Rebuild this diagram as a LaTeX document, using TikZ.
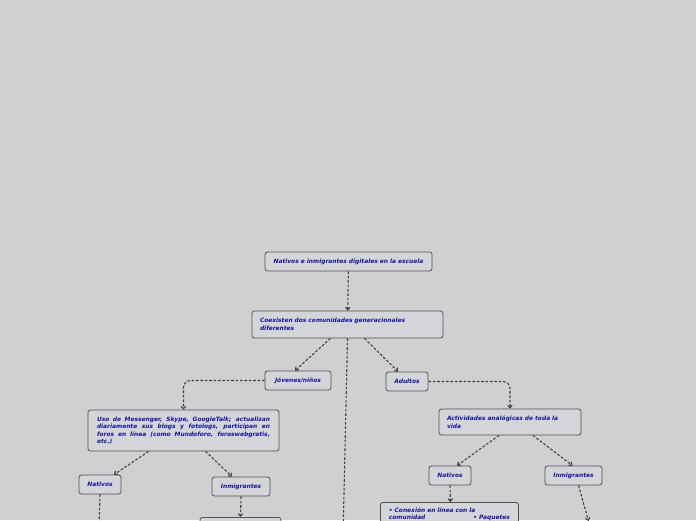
\documentclass[tikz,border=0pt]{standalone}
\usepackage{fontspec}
\setmainfont{DejaVu Sans}
\usetikzlibrary{arrows.meta,positioning}
\definecolor{canvas}{HTML}{CFD0D2}
\definecolor{boxfill}{HTML}{D4D5D8}
\definecolor{boxline}{HTML}{505050}
\definecolor{ink}{HTML}{14149E}
\definecolor{linkc}{HTML}{404040}

\begin{document}
\begin{tikzpicture}[x=1pt, y=-1pt,
  every node/.style={font=\fontsize{5.9}{7.5}\selectfont\bfseries\itshape, text=ink},
  topic/.style={draw=boxline, fill=boxfill, rounded corners=2.5pt, line width=0.8pt,
    inner xsep=8pt, inner ysep=3pt, minimum height=19pt},
  link/.style={draw=linkc, line width=1.1pt, dash pattern=on 2.6pt off 1.8pt,
    -{Straight Barb[length=2.5pt,width=4.5pt]}}]
  \fill[canvas] (0,0) rectangle (696,520);
  \useasboundingbox (0,0) rectangle (696,520);
  \clip (0,0) rectangle (696,520);

  % central topic and first level
  \node[topic, minimum width=167pt] (root) at (348.5,261.5)
    {Nativos e inmigrantes digitales en la escuela};
  \node[topic, minimum width=191pt, minimum height=27pt, text width=175pt, align=left] (coex) at (347.5,324.5)
    {\makebox[153pt][s]{Coexisten dos comunidades generacionales}\\diferentes};
  \node[topic, minimum width=66pt] (jov) at (298,380.5) {Jóvenes/niños};
  \node[topic, minimum width=42pt] (adu) at (407,381.5) {Adultos};

  % jóvenes
  \node[topic, minimum width=191pt, minimum height=41pt, text width=173pt, align=justify] (uso) at (183.5,430.5)
    {Uso de Messenger, Skype, GoogleTalk; actualizan\linebreak diariamente sus blogs y fotologs, participan en\linebreak
     foros en línea (como Mundoforo, foroswebgratis,\linebreak etc.)};
  \node[topic, minimum width=42pt] (natL) at (100,484.5) {Nativos};
  \node[topic, minimum width=58pt] (inmL) at (241,486.5) {Inmigrantes};
  \node[topic, minimum width=81pt, minimum height=30pt, anchor=north] (boxL) at (240.5,517) {};

  % adultos
  \node[topic, minimum width=142pt, minimum height=26pt, text width=126pt, align=left] (acti) at (510,422)
    {Actividades analógicas de toda la\\vida};
  \node[topic, minimum width=138pt, text width=121pt, inner ysep=5pt, align=left, anchor=north west] (boxR) at (380,502)
    {• Conexión en línea con la\\comunidad\hfill • Paquetes};
  \node[topic, minimum width=42pt] (natR) at (450,475.5) {Nativos};
  \node[topic, minimum width=57pt] (inmR) at (573.5,475.5) {Inmigrantes};

  % free ends below the page
  \coordinate (offmid) at (342.5,560);
  \coordinate (offnat) at (98,560);
  \coordinate (offinm) at (588.5,521);

  \draw[link] (root) -- (coex);
  \draw[link] ([xshift=-17pt]coex.south) -- ([xshift=-3pt]jov.north);
  \draw[link] ([xshift=17pt]coex.south) -- ([xshift=-9pt]adu.north);
  \draw[link] (coex.south) -- (offmid);
  \draw[link, rounded corners=7pt] (jov.west) -| (uso.north);
  \draw[link, rounded corners=7pt] (adu.east) -| (acti.north);
  \draw[link] ([xshift=-35pt]uso.south) -- ([xshift=14pt]natL.north);
  \draw[link] ([xshift=22pt]uso.south) -- ([xshift=-9pt]inmL.north);
  \draw[link] (natL.south) -- (offnat);
  \draw[link] (inmL.south) -- (boxL.north);
  \draw[link] ([xshift=-11pt]acti.south) -- ([xshift=7pt]natR.north);
  \draw[link] ([xshift=23pt]acti.south) -- ([xshift=-1pt]inmR.north);
  \draw[link] (natR.south) -- ([xshift=1pt]boxR.north);
  \draw[link] ([xshift=5pt]inmR.south) -- (offinm);
\end{tikzpicture}
\end{document}
